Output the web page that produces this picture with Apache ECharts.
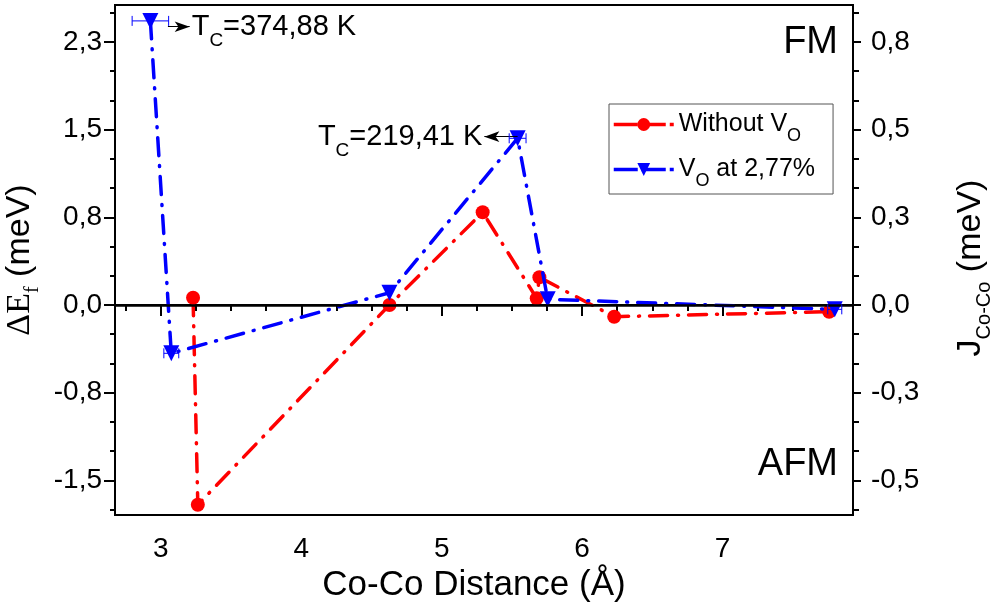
<!DOCTYPE html>
<html>
<head>
<meta charset="utf-8">
<script src="https://cdn.jsdelivr.net/npm/echarts@6/dist/echarts.min.js"></script>
<style>
    html, body { margin: 0; padding: 0; background: #fff; }
    #main { width: 996px; height: 607px; }
</style>
</head>
<body>
<div id="main"></div>
<script>
    // axis ranges (left = ΔEf, right = J = ΔEf / 3)
    const xMin = 2.673, xMax = 7.93;
    const yMin = -1.796, yMax = 2.566;

    const xTicks = [3, 4, 5, 6, 7];
    const xMinorTicks = [2.75, 3.25, 3.5, 3.75, 4.25, 4.5, 4.75, 5.25, 5.5, 5.75, 6.25, 6.5, 6.75, 7.25, 7.5, 7.75];
    const leftTicks = [-1.5, -0.75, 0, 0.75, 1.5, 2.25];
    const leftTickLabels = ['-1,5', '-0,8', '0,0', '0,8', '1,5', '2,3'];
    const leftMinorTicks = [-1.75, -1.25, -1, -0.5, -0.25, 0.25, 0.5, 1, 1.25, 1.75, 2, 2.5];
    const rightTicks = [-0.5, -0.25, 0, 0.25, 0.5, 0.75];
    const rightTickLabels = ['-0,5', '-0,3', '0,0', '0,3', '0,5', '0,8'];

    // series
    const withoutVo = [[3.229, 0.062], [3.263, -1.708], [4.628, 0.0], [5.292, 0.793], [5.677, 0.057], [5.696, 0.237], [6.229, -0.10], [7.76, -0.057]];
    const withVo = [[2.925, 2.43], [3.074, -0.413], [4.628, 0.105], [5.541, 1.426], [5.755, 0.049], [7.80, -0.037]];
    const withVoXErr = [0.13, 0.053, 0, 0.06, 0, 0.05];

    // Tc annotations
    const tc1Arrow = [[3.05, 2.38], [3.205, 2.38]];
    const tc2Arrow = [[5.541, 1.44], [5.304, 1.44]];

    const FONT = 'Liberation Sans';
    const SERIF = 'Liberation Serif';
    const DASH_DOT = [18, 10, 1, 10];

    function pick(ticks, labels, v) {
        let best = 0;
        ticks.forEach((t, i) => { if (Math.abs(t - v) < Math.abs(ticks[best] - v)) best = i; });
        return labels[best];
    }

    const tcRich = {
        t: {fontFamily: FONT, fontSize: 29, color: '#000'},
        s: {fontFamily: FONT, fontSize: 19, color: '#000', verticalAlign: 'bottom', padding: [0, 0, -9, 0]}
    };

    let myChart = echarts.init(document.getElementById('main'));

    let option = {
        animation: false,
        backgroundColor: '#fff',
        grid: {
            left: 115, right: 143, top: 5, bottom: 92,
            outerBoundsMode: 'none',
            show: true, borderColor: '#000', borderWidth: 2, backgroundColor: 'transparent'
        },
        legend: {
            orient: 'vertical',
            left: 609, top: 104,
            padding: [8, 18, 4, 3],
            itemWidth: 60, itemHeight: 16, itemGap: 12,
            backgroundColor: '#fff', borderColor: '#555', borderWidth: 1,
            lineStyle: {width: 3.5, type: [24, 4], cap: 'butt'},
            data: ['Without VO', 'VO at 2,77%'],
            formatter: function (name) {
                if (name === 'Without VO') return '{t|Without V}{s|O}';
                return '{t|V}{s|O}{t| at 2,77%}';
            },
            textStyle: {
                rich: {
                    t: {fontFamily: FONT, fontSize: 25, color: '#000'},
                    s: {fontFamily: FONT, fontSize: 18, color: '#000', verticalAlign: 'bottom', padding: [0, 0, -8, 0]}
                }
            }
        },
        xAxis: [{
            type: 'value', min: xMin, max: xMax,
            name: 'Co-Co Distance (Å)', nameLocation: 'middle', nameGap: 49,
            nameTextStyle: {fontFamily: FONT, fontSize: 35, color: '#000', padding: [0, 20, 0, 0]},
            axisLine: {lineStyle: {color: '#000', width: 2}},
            axisTick: {customValues: xTicks, length: 11, inside: false, lineStyle: {color: '#000', width: 2}},
            axisLabel: {customValues: xTicks, margin: 20, fontFamily: FONT, fontSize: 28, color: '#000'},
            splitLine: {show: false}
        }, {
            type: 'value', min: xMin, max: xMax, position: 'bottom',
            axisLine: {show: false},
            axisTick: {customValues: xMinorTicks, length: 6, lineStyle: {color: '#000', width: 2}},
            axisLabel: {show: false},
            splitLine: {show: false}
        }],
        yAxis: [{
            type: 'value', min: yMin, max: yMax, position: 'left',
            name: '{d|ΔE}{f|f}{t| (meV)}', nameLocation: 'middle', nameGap: 60,
            nameTextStyle: {
                rich: {
                    d: {fontFamily: SERIF, fontSize: 34, color: '#000'},
                    f: {fontFamily: SERIF, fontSize: 20, color: '#000', verticalAlign: 'bottom', padding: [0, 0, -6, 0]},
                    t: {fontFamily: FONT, fontSize: 34, color: '#000'}
                }
            },
            axisLine: {show: true, lineStyle: {color: '#000', width: 2}},
            axisTick: {customValues: leftTicks, length: 11, lineStyle: {color: '#000', width: 2}},
            axisLabel: {
                customValues: leftTicks, margin: 13, fontFamily: FONT, fontSize: 28, color: '#000',
                formatter: v => pick(leftTicks, leftTickLabels, v)
            },
            splitLine: {show: false}
        }, {
            type: 'value', min: yMin, max: yMax, position: 'left',
            axisLine: {show: false},
            axisTick: {customValues: leftMinorTicks, length: 5, lineStyle: {color: '#000', width: 2}},
            axisLabel: {show: false},
            splitLine: {show: false}
        }, {
            type: 'value', min: yMin / 3, max: yMax / 3, position: 'right',
            name: '{t|J}{s|Co-Co}{t| (meV)}', nameLocation: 'middle', nameGap: 101, nameRotate: 90,
            nameTextStyle: {
                padding: [0, 16, 0, 0],
                rich: {
                    t: {fontFamily: FONT, fontSize: 34, color: '#000'},
                    s: {fontFamily: FONT, fontSize: 20, color: '#000', verticalAlign: 'bottom', padding: [0, 0, -6, 0]}
                }
            },
            axisLine: {show: true, lineStyle: {color: '#000', width: 2}},
            axisTick: {customValues: rightTicks, length: 8, lineStyle: {color: '#000', width: 2}},
            axisLabel: {
                customValues: rightTicks, margin: 18, fontFamily: FONT, fontSize: 28, color: '#000',
                formatter: v => pick(rightTicks, rightTickLabels, v)
            },
            splitLine: {show: false}
        }, {
            type: 'value', min: yMin / 3, max: yMax / 3, position: 'right',
            axisLine: {show: false},
            axisTick: {customValues: leftMinorTicks.map(v => v / 3), length: 6, lineStyle: {color: '#000', width: 2}},
            axisLabel: {show: false},
            splitLine: {show: false}
        }],
        series: [{
            name: 'Without VO',
            type: 'line',
            data: withoutVo,
            symbol: 'circle', symbolSize: 14,
            itemStyle: {color: '#ff0000'},
            lineStyle: {color: '#ff0000', width: 3.5, type: DASH_DOT, cap: 'round'},
            z: 3,
            markLine: {
                silent: true, symbol: 'none',
                label: {show: false},
                lineStyle: {color: '#000', width: 2.5, type: 'solid'},
                data: [{yAxis: 0}]
            }
        }, {
            name: 'VO at 2,77%',
            type: 'line',
            data: withVo,
            symbol: 'triangle', symbolSize: 16, symbolRotate: 180,
            itemStyle: {color: '#0000ff'},
            lineStyle: {color: '#0000ff', width: 3.5, type: DASH_DOT, cap: 'round'},
            z: 4,
            markLine: {
                silent: true,
                symbol: ['none', 'arrow'], symbolSize: [8, 15],
                lineStyle: {color: '#000', width: 1, type: 'solid'},
                label: {
                    show: true, position: 'end', distance: 2,
                    formatter: p => p.name === 'tc1' ? '{t|T}{s|C}{t|=374,88 K}' : '{t|T}{s|C}{t|=219,41 K}',
                    rich: tcRich
                },
                data: [
                    [{name: 'tc1', coord: tc1Arrow[0]}, {coord: tc1Arrow[1]}],
                    [{name: 'tc2', coord: tc2Arrow[0]}, {coord: tc2Arrow[1]}]
                ]
            }
        }, {
            type: 'custom',
            name: 'xerr',
            data: withVo.map((p, i) => [p[0], p[1], withVoXErr[i]]),
            z: 5,
            renderItem: function (params, api) {
                let x = api.value(0), y = api.value(1), e = api.value(2);
                if (!e) return;
                let a = api.coord([x - e, y]), b = api.coord([x + e, y]);
                let st = {stroke: '#0000ff', lineWidth: 1};
                return {
                    type: 'group',
                    children: [
                        {type: 'line', shape: {x1: a[0], y1: a[1], x2: b[0], y2: b[1]}, style: st},
                        {type: 'line', shape: {x1: a[0], y1: a[1] - 5, x2: a[0], y2: a[1] + 5}, style: st},
                        {type: 'line', shape: {x1: b[0], y1: b[1] - 5, x2: b[0], y2: b[1] + 5}, style: st}
                    ]
                };
            }
        }],
        graphic: [
            {type: 'text', right: 996 - 838, top: 24, style: {text: 'FM', font: '38px "Liberation Sans"', fill: '#000'}},
            {type: 'text', right: 996 - 838, top: 446, style: {text: 'AFM', font: '38px "Liberation Sans"', fill: '#000'}}
        ]
    };

    myChart.setOption(option);
</script>
</body>
</html>
